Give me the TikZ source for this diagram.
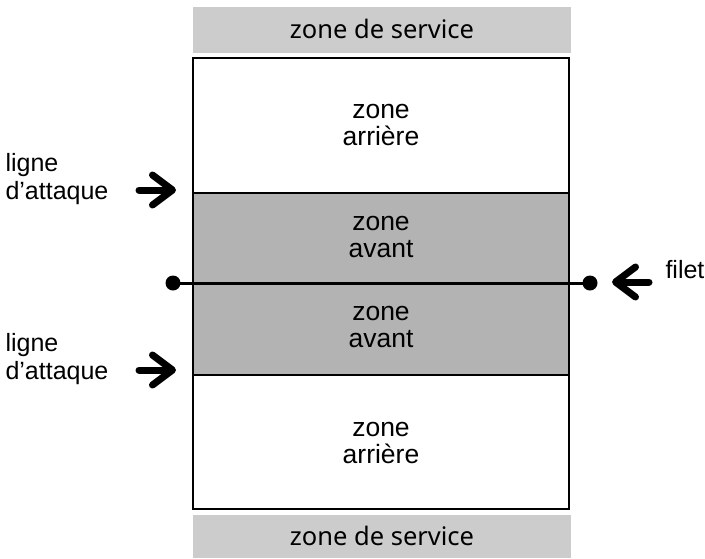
\documentclass[tikz,border=0pt]{standalone}
\usepackage{fontspec}
\setmainfont{Liberation Sans}
\newfontfamily\svcfont{Noto Sans}
\usetikzlibrary{arrows.meta}
\definecolor{svcgray}{HTML}{CCCCCC}
\definecolor{frontgray}{HTML}{B3B3B3}
\begin{document}
\begin{tikzpicture}[x=1pt,y=-1pt,
  svc/.style={fill=svcgray},
  front/.style={fill=frontgray},
  frame/.style={draw=black,line width=2pt},
  zonetext/.style={align=center,font=\fontsize{26.5}{27}\selectfont},
  svctext/.style={anchor=base,font=\svcfont\fontsize{25.5}{26}\selectfont},
  sidetext/.style={align=left,anchor=north west,font=\fontsize{25}{28}\selectfont},
  pointer/.style={line width=7pt,line cap=round,-{Straight Barb[length=20pt,width=30pt,line cap=round,line join=round]}},
  netdot/.style={circle,fill=black,inner sep=0pt,minimum size=15pt}
]
\useasboundingbox (0,0) rectangle (705,558);
% service zones
\fill[svc] (193,7) rectangle (571,53);
\fill[svc] (193,515) rectangle (571,558);
\node[svctext] (svctop) at (382,38) {zone de service};
\node[svctext] (svcbot) at (382,545) {zone de service};
% front zones
\fill[front] (193,193) rectangle (569,375);
% court frame and lines
\draw[frame] (193,58) rectangle (569,509);
\coordinate (atkAw) at (193,193);
\coordinate (atkAe) at (569,193);
\coordinate (atkBw) at (193,375);
\coordinate (atkBe) at (569,375);
\draw[frame] (atkAw) -- (atkAe);
\draw[frame] (atkBw) -- (atkBe);
% net
\node[netdot] (netL) at (173,283) {};
\node[netdot] (netR) at (590,283) {};
\draw[line width=3pt] (netL.center) -- (netR.center);
% zone labels
\node[zonetext] (arrA) at (381,125) {zone\\arrière};
\node[zonetext] (avA) at (381,237) {zone\\avant};
\node[zonetext] (avB) at (381,327) {zone\\avant};
\node[zonetext] (arrB) at (381,443) {zone\\arrière};
% side labels
\node[sidetext] (lblA) at (2,150) {ligne\\d’attaque};
\node[sidetext] (lblB) at (2,330) {ligne\\d’attaque};
\node[anchor=base west,font=\fontsize{25}{28}\selectfont] (lblNet) at (662,278) {filet};
% arrows
\coordinate (arAs) at (139,190);
\coordinate (arAe) at (176,190);
\coordinate (arBs) at (139,370);
\coordinate (arBe) at (176,370);
\coordinate (arNs) at (649,282);
\coordinate (arNe) at (612,282);
\draw[pointer] (arAs) -- (arAe);
\draw[pointer] (arBs) -- (arBe);
\draw[pointer] (arNs) -- (arNe);
\end{tikzpicture}
\end{document}
